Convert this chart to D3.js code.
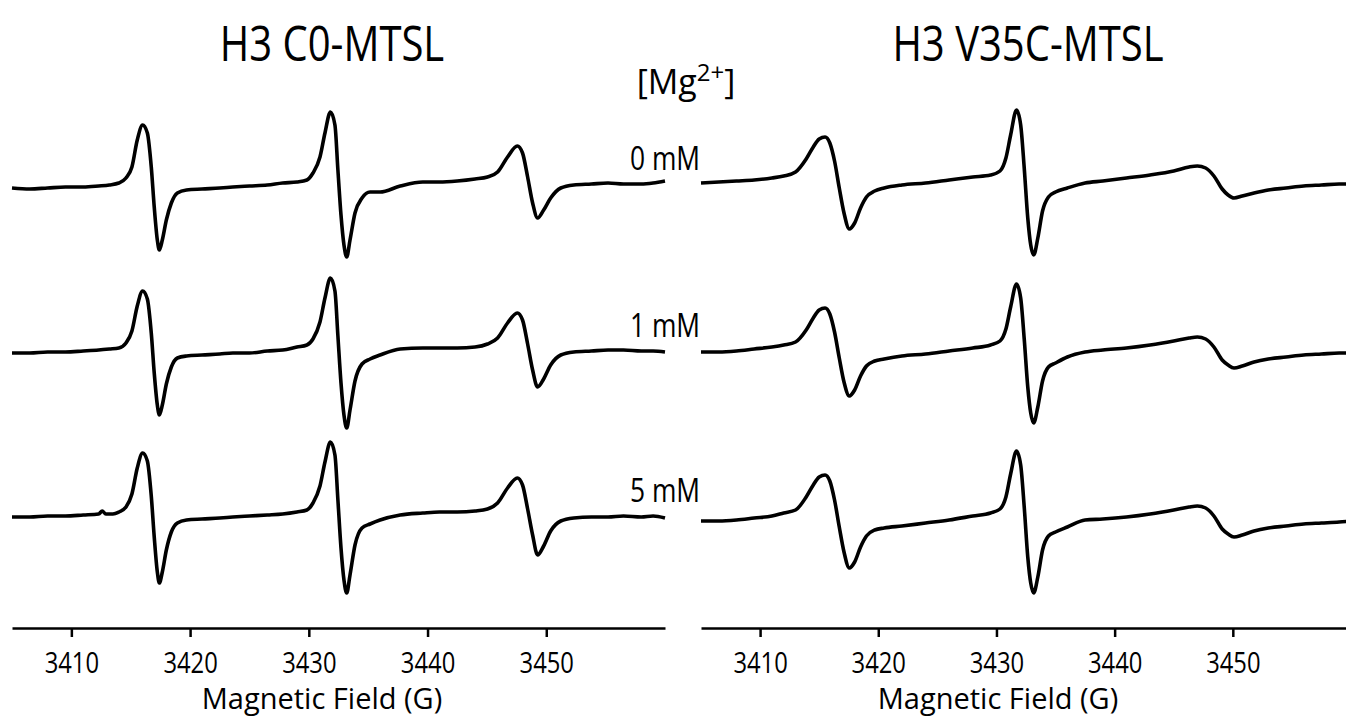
<!DOCTYPE html>
<html>
<head>
<meta charset="utf-8">
<script src="https://cdn.jsdelivr.net/npm/d3@7"></script>
<style>
  body { margin: 0; background: #fff; }
  text { font-family: "Open Sans", sans-serif; fill: #000; }
</style>
</head>
<body>
<div id="chart"></div>
<script>
/* EPR spectra of H3 C0-MTSL and H3 V35C-MTSL at three Mg2+ levels */

// tick labels and text
const fieldTicks = [3410, 3420, 3430, 3440, 3450];
const fieldDomain = [3405, 3460];
const panelTitles = ["H3 C0-MTSL", "H3 V35C-MTSL"];
const concLabels = ["0 mM", "1 mM", "5 mM"];

// spectra: [field (G), signal (a.u.)]
const c0_0mM = [[3405,0],[3406.5,-1],[3408,0],[3409.5,1],[3411,1],[3412.3,2],[3413.2,3],[3414,5],[3414.6,10],[3415.1,21],[3415.55,48],[3416,63],[3416.4,55],[3416.73,21],[3416.98,-19],[3417.24,-52],[3417.41,-62],[3417.66,-52],[3418,-32],[3418.42,-15],[3418.93,-5],[3419.7,-2],[3421,-1],[3422.5,0],[3423.6,1],[3425,2],[3426.5,3],[3427.8,5],[3429,6],[3429.84,8],[3430.35,15],[3430.94,31],[3431.36,55],[3431.82,76],[3432.2,63],[3432.45,18],[3432.71,-27],[3432.96,-57],[3433.19,-69],[3433.47,-52],[3433.89,-25],[3434.48,-10],[3435.16,-4],[3436,-4],[3437.7,2],[3439.6,6],[3441,6],[3442.5,7],[3444,9],[3445.05,11],[3445.9,16],[3446.74,31],[3447.56,42],[3448,35],[3448.43,11],[3448.85,-15],[3449.27,-30],[3449.78,-22],[3450.37,-10],[3451.22,0],[3452.32,3],[3453.8,4],[3455.2,5],[3456.5,4],[3458,4],[3459,5],[3460,7]];
const c0_1mM = [[3405,0],[3406.5,0],[3408,1],[3409.5,1],[3411,2],[3412.3,3],[3413.2,4],[3414,5],[3414.6,10],[3415.1,22],[3415.55,47],[3416,62],[3416.4,54],[3416.73,20],[3416.98,-20],[3417.24,-52],[3417.41,-62],[3417.66,-52],[3418,-31],[3418.42,-14],[3418.93,-5],[3419.7,-3],[3421,-2],[3422.5,-1],[3423.6,0],[3425,0],[3426.5,2],[3427.8,3],[3429,6],[3429.84,8],[3430.35,14],[3430.94,31],[3431.36,55],[3431.82,75],[3432.2,62],[3432.45,17],[3432.71,-30],[3432.96,-62],[3433.19,-75],[3433.47,-57],[3433.89,-28],[3434.48,-11],[3435.16,-6],[3436,-2],[3437.7,4],[3439.6,5],[3441,5],[3442.5,5],[3444,6],[3445.05,9],[3445.9,15],[3446.74,30],[3447.56,40],[3448,33],[3448.43,9],[3448.85,-17],[3449.27,-34],[3449.78,-26],[3450.37,-12],[3451.22,-2],[3452.32,1],[3453.8,2],[3455.2,3],[3456.5,3],[3458,2],[3459,2],[3460,1]];
const c0_5mM = [[3405,0],[3406.5,0],[3408,1],[3409.5,1],[3411,2],[3412.3,3],[3412.6,6],[3412.9,3],[3413.5,3],[3414,5],[3414.6,10],[3415.1,23],[3415.55,49],[3416,64],[3416.4,56],[3416.73,21],[3416.98,-20],[3417.24,-55],[3417.41,-66],[3417.66,-55],[3418,-33],[3418.42,-15],[3418.93,-6],[3419.7,-3],[3421,-2],[3422.5,-1],[3423.6,0],[3425,1],[3426.5,2],[3427.8,3],[3429,5],[3429.84,7],[3430.35,14],[3430.94,31],[3431.36,55],[3431.82,75],[3432.2,62],[3432.45,17],[3432.71,-31],[3432.96,-63],[3433.19,-76],[3433.47,-58],[3433.89,-28],[3434.48,-11],[3435.16,-7],[3436,-3],[3437.7,2],[3439.6,4],[3441,5],[3442.5,5],[3444,6],[3445.05,8],[3445.9,14],[3446.74,29],[3447.56,39],[3448,32],[3448.43,8],[3448.85,-18],[3449.27,-38],[3449.78,-29],[3450.37,-14],[3451.22,-4],[3452.32,-1],[3453.8,0],[3455.2,0],[3456.5,1],[3458,0],[3459,1],[3460,-1]];

const v35c_0mM = [[3405,0],[3406.5,1],[3408,2],[3409.5,3],[3411,5],[3412,7],[3413,11],[3413.9,24],[3414.5,36],[3415,44],[3415.5,46],[3415.9,40],[3416.3,22],[3416.7,-5],[3417.1,-30],[3417.55,-46],[3418,-40],[3418.5,-25],[3419,-14],[3419.7,-8],[3420.5,-5],[3422,-2],[3424,0],[3426,3],[3428,6],[3429.5,8],[3430.3,12],[3430.8,25],[3431.2,48],[3431.7,73],[3432.05,58],[3432.35,15],[3432.65,-35],[3432.9,-62],[3433.15,-72],[3433.5,-55],[3433.9,-28],[3434.4,-14],[3435,-9],[3436,-5],[3437.5,0],[3439,2],[3441,5],[3443,8],[3445,12],[3446.3,16],[3447,17],[3447.7,15],[3448.4,7],[3449.1,-6],[3449.6,-12],[3450.1,-15],[3450.8,-13],[3451.8,-10],[3453,-7],[3454.5,-5],[3456,-3],[3457.5,-2],[3459,-1],[3460,-1]];
const v35c_1mM = [[3405,0],[3406.5,0],[3408,1],[3409.5,3],[3411,5],[3412,7],[3413,10],[3413.9,22],[3414.5,34],[3415,42],[3415.5,44],[3415.9,38],[3416.3,20],[3416.7,-6],[3417.1,-30],[3417.55,-44],[3418,-38],[3418.5,-24],[3419,-14],[3419.7,-9],[3420.5,-7],[3422,-4],[3424,-2],[3426,1],[3428,4],[3429.5,7],[3430.3,11],[3430.8,23],[3431.2,45],[3431.7,68],[3432.05,54],[3432.35,13],[3432.65,-35],[3432.9,-61],[3433.15,-71],[3433.5,-55],[3433.9,-29],[3434.4,-15],[3435,-11],[3436,-5],[3437.5,0],[3439,2],[3441,4],[3443,7],[3445,11],[3446.3,14],[3447,15],[3447.7,13],[3448.4,5],[3449.1,-8],[3449.6,-13],[3450.1,-16],[3450.8,-14],[3451.8,-10],[3453,-7],[3454.5,-5],[3456,-3],[3457.5,-2],[3459,-1],[3460,-1]];
const v35c_5mM = [[3405,0],[3406.5,0],[3408,1],[3409.5,3],[3411,5],[3412,8],[3413,11],[3413.9,24],[3414.5,36],[3415,44],[3415.5,46],[3415.9,40],[3416.3,21],[3416.7,-6],[3417.1,-31],[3417.55,-47],[3418,-41],[3418.5,-26],[3419,-15],[3419.7,-9],[3420.5,-7],[3422,-5],[3424,-2],[3426,1],[3428,5],[3429.5,8],[3430.3,12],[3430.8,24],[3431.2,47],[3431.7,70],[3432.05,56],[3432.35,14],[3432.65,-36],[3432.9,-62],[3433.15,-72],[3433.5,-56],[3433.9,-29],[3434.4,-15],[3435,-11],[3436,-6],[3437.5,1],[3439,2],[3441,4],[3443,7],[3445,11],[3446.3,14],[3447,15],[3447.7,13],[3448.4,5],[3449.1,-8],[3449.6,-13],[3450.1,-16],[3450.8,-14],[3451.8,-10],[3453,-7],[3454.5,-5],[3456,-3],[3457.5,-2],[3459,-1],[3460,0]];

// page layout
const width = 1346,
    height = 717;

const svg = d3.select("#chart")
    .append("svg")
    .attr("width", width)
    .attr("height", height)
    .attr("viewBox", [0, 0, width, height]);

// narrow the text a bit, the original face is condensed
function squeeze(sel, k) {
    sel.each(function () {
        let w = this.getComputedTextLength();
        d3.select(this)
            .attr("textLength", w * k)
            .attr("lengthAdjust", "spacingAndGlyphs");
    });
}

// one entry per panel: x range, trace baselines, label centres
const panels = [
    { title: panelTitles[0], range: [12, 665], baselines: [188, 353, 517], titleX: 332, fieldX: 322, traces: [c0_0mM, c0_1mM, c0_5mM] },
    { title: panelTitles[1], range: [701, 1351], baselines: [183, 352, 521], titleX: 1028, fieldX: 998, traces: [v35c_0mM, v35c_1mM, v35c_5mM] }
];

const axisY = 628;

for (let p of panels) {
    let x = d3.scaleLinear()
        .domain(fieldDomain)
        .range(p.range);

    // spectra, stacked
    p.traces.forEach((trace, i) => {
        let b = p.baselines[i];
        let y = d3.scaleLinear()
            .domain([-100, 100])
            .range([b + 100, b - 100]);

        let line = d3.line()
            .x(d => x(d[0]))
            .y(d => y(d[1]))
            .curve(d3.curveMonotoneX);

        svg.append("path")
            .datum(trace)
            .attr("fill", "none")
            .attr("stroke", "#000")
            .attr("stroke-width", 3.6)
            .attr("stroke-linejoin", "round")
            .attr("d", line);
    });

    // x axis
    let ax = svg.append("g")
        .attr("transform", `translate(0,${axisY})`)
        .call(d3.axisBottom(x)
            .tickValues(fieldTicks)
            .tickFormat(d3.format("d"))
            .tickSize(9)
            .tickSizeOuter(0));

    ax.select(".domain").attr("stroke", "#000").attr("stroke-width", 2.5);
    ax.selectAll(".tick line").attr("stroke", "#000").attr("stroke-width", 2.5);
    ax.selectAll(".tick text")
        .attr("y", 24)
        .attr("dy", "0.71em")
        .style("font-family", "'Open Sans', sans-serif")
        .style("font-size", "29px")
        .attr("fill", "#000")
        .call(squeeze, 0.82);

    // axis title
    svg.append("text")
        .attr("x", p.fieldX)
        .attr("y", 709)
        .attr("text-anchor", "middle")
        .style("font-size", "29px")
        .text("Magnetic Field (G)");

    // panel title
    svg.append("text")
        .attr("x", p.titleX)
        .attr("y", 61)
        .attr("text-anchor", "middle")
        .style("font-size", "50px")
        .text(p.title)
        .call(squeeze, 0.8);
}

// concentration labels between the panels
const mg = svg.append("text")
    .attr("x", 686)
    .attr("y", 94)
    .attr("text-anchor", "middle")
    .style("font-size", "34px");
mg.append("tspan").text("[Mg");
mg.append("tspan").attr("dy", -13).style("font-size", "24px").text("2+");
mg.append("tspan").attr("dy", 13).text("]");

const labelY = [170, 337, 502];
svg.selectAll(".conc")
    .data(concLabels)
    .join("text")
    .attr("class", "conc")
    .attr("x", 665)
    .attr("y", (d, i) => labelY[i])
    .attr("text-anchor", "middle")
    .style("font-size", "33px")
    .text(d => d)
    .call(squeeze, 0.8);
</script>
</body>
</html>
